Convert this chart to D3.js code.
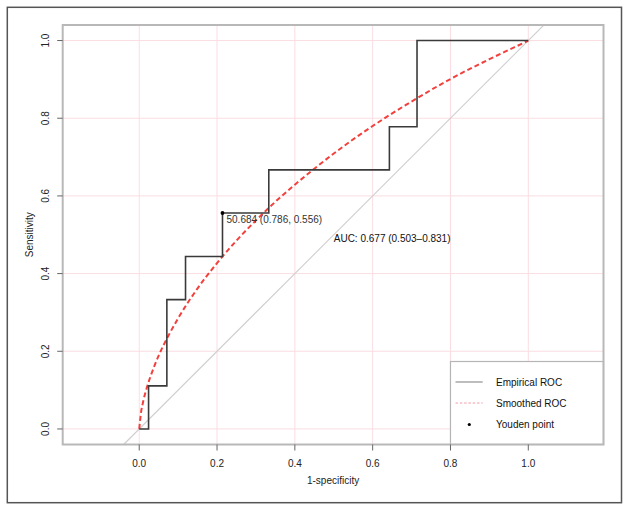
<!DOCTYPE html>
<html>
<head>
<meta charset="utf-8">
<script src="https://cdn.jsdelivr.net/npm/d3@7"></script>
<style>
  html, body { margin: 0; padding: 0; background: #fff; }
  svg { display: block; font-family: "Liberation Sans", Arial, sans-serif; }
</style>
</head>
<body>
<svg id="chart" width="629" height="511"></svg>
<script>
// ---- data ----
const xTicks = [0, 0.2, 0.4, 0.6, 0.8, 1.0];
const yTicks = [0, 0.2, 0.4, 0.6, 0.8, 1.0];
const empFpr = [0, 0.024, 0.071, 0.119, 0.214, 0.333, 0.643, 0.714, 1.0];
const empTpr = [0, 0.111, 0.333, 0.444, 0.556, 0.667, 0.778, 1.0, 1.0];
const smoothFpr = [0, 0.005, 0.01, 0.02, 0.03, 0.05, 0.075, 0.1, 0.15, 0.2, 0.25, 0.3, 0.35, 0.4, 0.45, 0.5, 0.6, 0.7, 0.8, 0.9, 0.95, 0.99, 1.0];
const smoothTpr = [0, 0.045, 0.070, 0.108, 0.138, 0.189, 0.240, 0.285, 0.362, 0.427, 0.485, 0.537, 0.585, 0.629, 0.670, 0.709, 0.780, 0.843, 0.901, 0.952, 0.976, 0.995, 1.0];
const youden = { fpr: 0.214, tpr: 0.556, label: "50.684 (0.786, 0.556)" };
const aucText = "AUC: 0.677 (0.503\u20130.831)";
const aucPos = { fpr: 0.5, tpr: 0.49 };
const legendLabels = ["Empirical ROC", "Smoothed ROC", "Youden point"];
const xLabel = "1-specificity";
const yLabel = "Sensitivity";

// ---- layout ----
const svg = d3.select("#chart");
const L = 62.7, R = 603.5, T = 25, B = 444.5;
const x = d3.scaleLinear().domain([-0.1967, 1.1933]).range([L, R]);
const y = d3.scaleLinear().domain([-0.04, 1.04]).range([B, T]);
const fmt = d3.format(".1f");

// outer frame
svg.append("rect").attr("x", 7.3).attr("y", 7.3).attr("width", 614.2).attr("height", 495.4)
  .attr("fill", "#fff").attr("stroke", "#555").attr("stroke-width", 1.5);

// grid
const g = svg.append("g");
g.selectAll("line.vg").data(xTicks).enter().append("line")
  .attr("x1", d => x(d)).attr("x2", d => x(d)).attr("y1", T).attr("y2", B)
  .attr("stroke", "#fadde2").attr("stroke-width", 1);
g.selectAll("line.hg").data(yTicks).enter().append("line")
  .attr("x1", L).attr("x2", R).attr("y1", d => y(d)).attr("y2", d => y(d))
  .attr("stroke", "#fadde2").attr("stroke-width", 1);

// clip
svg.append("clipPath").attr("id", "clip").append("rect")
  .attr("x", L).attr("y", T).attr("width", R - L).attr("height", B - T);
const plot = svg.append("g").attr("clip-path", "url(#clip)");

// diagonal
const yd = y.domain();
plot.append("line")
  .attr("x1", x(yd[0])).attr("y1", y(yd[0])).attr("x2", x(yd[1])).attr("y2", y(yd[1]))
  .attr("stroke", "#cfcfcf").attr("stroke-width", 1.1);

// smoothed ROC
const smooth = smoothFpr.map((f, i) => [f, smoothTpr[i]]);
plot.append("path").datum(smooth)
  .attr("d", d3.line().x(d => x(d[0])).y(d => y(d[1])).curve(d3.curveMonotoneX))
  .attr("fill", "none").attr("stroke", "#f2403c").attr("stroke-width", 2)
  .attr("stroke-dasharray", "5,3");

// empirical ROC
const emp = empFpr.map((f, i) => [f, empTpr[i]]);
plot.append("path").datum(emp)
  .attr("d", d3.line().x(d => x(d[0])).y(d => y(d[1])).curve(d3.curveStepAfter))
  .attr("fill", "none").attr("stroke", "#3a3a3a").attr("stroke-width", 1.6);

// Youden point
svg.append("circle").attr("cx", x(youden.fpr)).attr("cy", y(youden.tpr)).attr("r", 1.9).attr("fill", "#000");
svg.append("text").attr("x", x(youden.fpr) + 4).attr("y", y(youden.tpr) + 10.4)
  .attr("font-size", 10).attr("fill", "#333").text(youden.label);

// AUC text
svg.append("text").attr("x", x(aucPos.fpr)).attr("y", y(aucPos.tpr))
  .attr("dominant-baseline", "central").attr("font-size", 10).attr("fill", "#111").text(aucText);

// legend
const lg = svg.append("g");
lg.append("rect").attr("x", x(0.8)).attr("y", 361.5).attr("width", R - x(0.8)).attr("height", B - 361.5)
  .attr("fill", "#fff").attr("stroke", "#b5b5b5").attr("stroke-width", 1.2);
const ly = [382, 403, 424.5];
lg.append("line").attr("x1", 455.5).attr("x2", 482.7).attr("y1", ly[0]).attr("y2", ly[0])
  .attr("stroke", "#bdbdbd").attr("stroke-width", 2);
lg.append("line").attr("x1", 455.5).attr("x2", 482.7).attr("y1", ly[1]).attr("y2", ly[1])
  .attr("stroke", "#f29aa5").attr("stroke-width", 1).attr("stroke-dasharray", "2.5,1.8");
lg.append("circle").attr("cx", 469.3).attr("cy", ly[2]).attr("r", 1.6).attr("fill", "#000");
lg.selectAll("text.leg").data(legendLabels).enter().append("text")
  .attr("x", 496).attr("y", (d, i) => ly[i]).attr("dominant-baseline", "central")
  .attr("font-size", 10).attr("fill", "#111").text(d => d);

// plot border
svg.append("rect").attr("x", L).attr("y", T).attr("width", R - L).attr("height", B - T)
  .attr("fill", "none").attr("stroke", "#b8b8b8").attr("stroke-width", 2);

// x axis ticks
const xa = svg.append("g");
xa.selectAll("line").data(xTicks).enter().append("line")
  .attr("x1", d => x(d)).attr("x2", d => x(d)).attr("y1", B).attr("y2", B + 6)
  .attr("stroke", "#666").attr("stroke-width", 1);
xa.selectAll("text").data(xTicks).enter().append("text")
  .attr("x", d => x(d)).attr("y", 463).attr("text-anchor", "middle").attr("dominant-baseline", "central")
  .attr("font-size", 10).attr("fill", "#222").text(d => fmt(d));
svg.append("text").attr("x", (L + R) / 2).attr("y", 480.5).attr("text-anchor", "middle")
  .attr("dominant-baseline", "central").attr("font-size", 10).attr("fill", "#222").text(xLabel);

// y axis ticks
const ya = svg.append("g");
ya.selectAll("line").data(yTicks).enter().append("line")
  .attr("x1", L - 5.5).attr("x2", L).attr("y1", d => y(d)).attr("y2", d => y(d))
  .attr("stroke", "#666").attr("stroke-width", 1);
ya.selectAll("text").data(yTicks).enter().append("text")
  .attr("transform", d => `translate(45.5,${y(d)}) rotate(-90)`)
  .attr("text-anchor", "middle").attr("dominant-baseline", "central")
  .attr("font-size", 10).attr("fill", "#222").text(d => fmt(d));
svg.append("text").attr("transform", `translate(29.5,${(T + B) / 2}) rotate(-90)`)
  .attr("text-anchor", "middle").attr("dominant-baseline", "central")
  .attr("font-size", 10).attr("fill", "#222").text(yLabel);
</script>
</body>
</html>
